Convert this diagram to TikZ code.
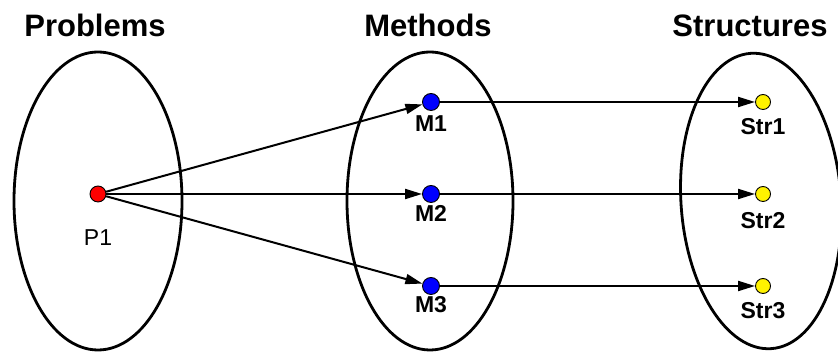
\documentclass[tikz,border=0pt]{standalone}
\usepackage{fontspec}
\setmainfont{Liberation Sans}
\usetikzlibrary{arrows.meta}
\begin{document}
\begin{tikzpicture}[x=1pt,y=1pt,
  setring/.style={line width=2.8pt},
  dotnode/.style={circle,draw=black,line width=0.9pt,inner sep=0pt,minimum size=#1},
  title/.style={font=\fontsize{31}{36}\selectfont\bfseries,anchor=base,inner sep=0pt},
  lbl/.style={font=\fontsize{23}{26}\selectfont\bfseries,inner sep=0pt},
  link/.style={line width=2pt,-{Triangle[length=17pt,width=10pt]}}]
\useasboundingbox (0,0) rectangle (838,352);
\fill[white] (0,0) rectangle (838,352);
% sets
\draw[setring] (98,151) ellipse [x radius=84, y radius=149];
\draw[setring] (430,151) ellipse [x radius=83, y radius=149];
\draw[setring,rotate around={4:(761,151)}] (761,151) ellipse [x radius=80, y radius=148];
% titles
\node[title] (tp) at (95,315) {Problems};
\node[title] (tm) at (428,315) {Methods};
\node[title] (ts) at (750,315) {Structures};
% dots
\node[dotnode=16pt,fill=red] (P1) at (98,158) {};
\node[dotnode=17pt,fill=blue] (M1) at (431,250) {};
\node[dotnode=17pt,fill=blue] (M2) at (431,158) {};
\node[dotnode=17pt,fill=blue] (M3) at (431,66) {};
\node[dotnode=15pt,fill=yellow] (S1) at (763,250) {};
\node[dotnode=15pt,fill=yellow] (S2) at (763,158) {};
\node[dotnode=15pt,fill=yellow] (S3) at (763,66) {};
% labels
\node[lbl,font=\fontsize{23}{26}\selectfont] (lP1) at (98,114.5) {P1};
\node[lbl] (lM1) at (431,228.5) {M1};
\node[lbl] (lM2) at (431,138.5) {M2};
\node[lbl] (lM3) at (431,47) {M3};
\node[lbl] (lS1) at (763,225) {Str1};
\node[lbl] (lS2) at (763,131) {Str2};
\node[lbl] (lS3) at (763,41) {Str3};
% links
\draw[link] (P1) -- (M1);
\draw[link] (P1) -- (M2);
\draw[link] (P1) -- (M3);
\draw[link] (M1) -- (S1);
\draw[link] (M2) -- (S2);
\draw[link] (M3) -- (S3);
\end{tikzpicture}
\end{document}
